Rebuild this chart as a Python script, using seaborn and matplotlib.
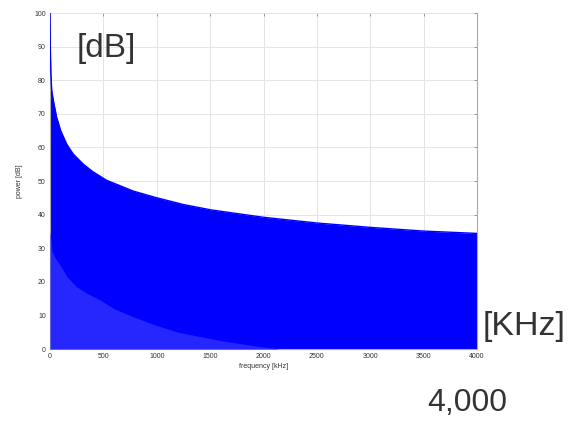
import matplotlib
matplotlib.use("Agg")
import matplotlib.pyplot as plt
import seaborn as sns
import pandas as pd

# Upper envelope of the spectrum (frequency in kHz, power in dB)
upper_freq = [0, 3, 8, 16, 31, 62, 100, 156, 218, 312, 400, 531, 780, 1000, 1250,
              1508, 2000, 2500, 3000, 3500, 4000]
upper_db = [100, 90, 82, 77, 74, 69, 65, 61, 58, 55, 52.8, 50.2, 47, 45, 43,
            41.4, 39.2, 37.5, 36.2, 35.1, 34.4]

# Lower envelope (below it the stems are sparse)
lower_freq = [0, 20, 50, 94, 160, 250, 350, 468, 600, 780, 1000, 1200, 1405, 1600,
              1800, 2000, 2150, 4000]
lower_db = [35, 29, 27, 25, 21.5, 18.5, 16.5, 14.6, 12, 9.6, 7, 5, 3.7, 2.5,
            1.5, 0.6, 0, 0]

x_ticks = [0, 500, 1000, 1500, 2000, 2500, 3000, 3500, 4000]
y_ticks = [0, 10, 20, 30, 40, 50, 60, 70, 80, 90, 100]

sns.set_style("white")
plt.rcParams['font.family'] = ['Liberation Sans', 'DejaVu Sans']

fig = plt.figure(figsize=(5.69, 4.21), dpi=100)
ax = fig.add_axes([50 / 569, 72 / 421, 427 / 569, 336 / 421])

up = pd.DataFrame({"f": upper_freq, "db": upper_db})
lo = pd.DataFrame({"f": lower_freq, "db": lower_db})

ax.fill_between(up["f"], 0, up["db"], color="#0000ff", linewidth=0, zorder=2)
ax.fill_between(lo["f"], 0, lo["db"], color="#2626ff", linewidth=0, zorder=3)
sns.lineplot(data=up, x="f", y="db", ax=ax, color="#0000ff", linewidth=1, zorder=4)

ax.set_xlim(0, 4000)
ax.set_ylim(0, 100)
ax.set_xticks(x_ticks)
ax.set_yticks(y_ticks)
ax.set_xticklabels([str(v) for v in x_ticks], fontsize=5, color="#333333")
ax.set_yticklabels([str(v) for v in y_ticks], fontsize=5, color="#333333")
ax.tick_params(direction="in", length=2.5, width=0.6, color="#888888", top=True, right=True, pad=3)
ax.grid(True, color="#e4e4e4", linewidth=0.7, zorder=0)
ax.set_axisbelow(True)
for s in ax.spines.values():
    s.set_color("#aaaaaa")
    s.set_linewidth(0.8)
ax.spines["top"].set_visible(False)
ax.set_xlabel("frequency [kHz]", fontsize=5, color="#333333", labelpad=2)
ax.set_ylabel("power [dB]", fontsize=5, color="#333333", labelpad=8)

fig.text(106 / 569, 1 - 48 / 421, "[dB]", fontsize=24, color="#333333", ha="center", va="center")
fig.text(524 / 569, 1 - 327 / 421, "[KHz]", fontsize=24.5, color="#333333", ha="center", va="center")
fig.text(467 / 569, 1 - 403 / 421, "4,000", fontsize=23, color="#333333", ha="center", va="center")

fig.savefig("out.png", dpi=100)
